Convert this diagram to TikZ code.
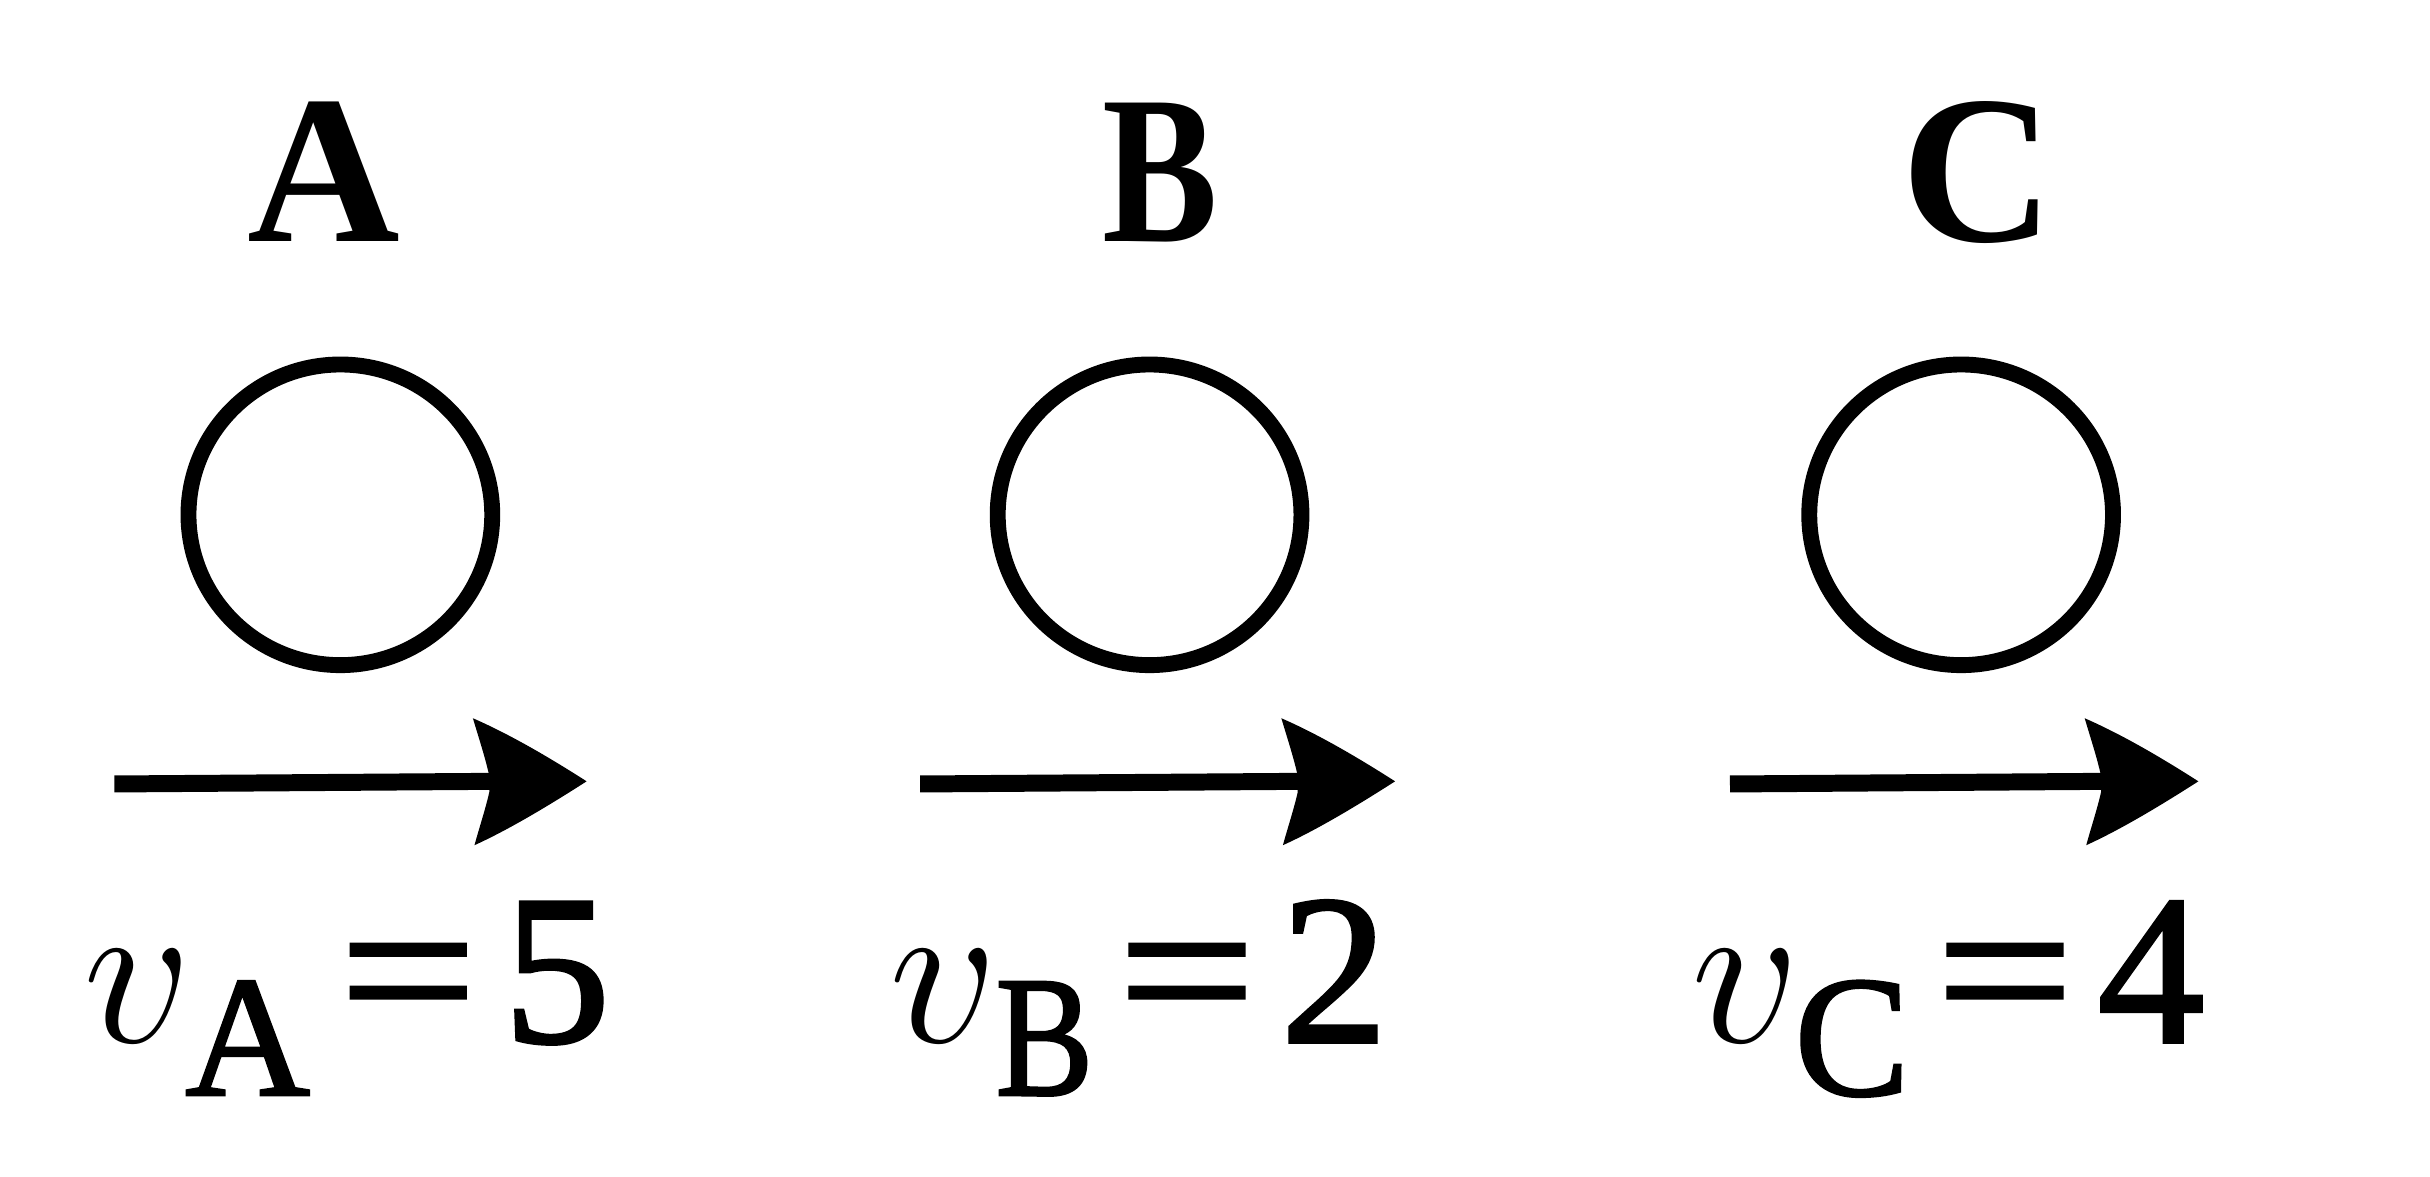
\RequirePackage{fix-cm}
\documentclass[tikz,border=0pt]{standalone}
\usepackage{fontspec}
\setmainfont{Liberation Serif}
\newfontfamily\fbold{Liberation Serif}[FakeBold=1.6]
\begin{document}
\begin{tikzpicture}[x=0.01cm,y=-0.01cm,
  toplabel/.style={inner sep=0pt,anchor=base,font=\fontsize{38.6}{40}\selectfont\bfseries},
  vsym/.style={inner sep=0pt,anchor=base,font=\fontsize{39}{40}\selectfont},
  subl/.style={inner sep=0pt,anchor=base,font=\fontsize{31.5}{32}\fbold},
  eqs/.style={inner sep=0pt,anchor=base,font=\fontsize{39}{40}\fbold},
  num/.style={inner sep=0pt,anchor=base,font=\fontsize{39}{40}\fbold},
  ball/.style={line width=2.9pt},
  shaft/.style={line width=3.1pt},
  headfill/.style={fill=black}]
\useasboundingbox (0,0) rectangle (1560,755.6);
% labels
\node[toplabel] (lA) at (208,155) {A};
\node[toplabel] (lB) at (745,155) {\scalebox{0.82}[1]{B}};
\node[toplabel] (lC) at (1270,155) {C};
% balls
\coordinate (bA) at (218.5,330.5);
\coordinate (bB) at (738,330.5);
\coordinate (bC) at (1259,330.5);
\foreach \n in {A,B,C}{
  \draw[ball] (b\n) ellipse [x radius=97.5, y radius=96.5];
}
% arrows
\foreach \n/\s/\t in {A/73.4/376.6, B/590.7/895.6, C/1110.6/1411.3}{
  \coordinate (s\n) at (\s,503.3);
  \coordinate (t\n) at (\t,501.6);
  \draw[shaft] (s\n) -- ([xshift=-0.6cm]t\n);
  \begin{scope}[shift={(t\n)}]
  \fill[headfill] (0,0) .. controls (-25,-16) and (-50,-30.5) .. (-73,-40.5)
     .. controls (-69,-27) and (-65,-15) .. (-62.5,-3.5)
     -- (-62.5,7)
     .. controls (-65,18) and (-69,30) .. (-72,41)
     .. controls (-50,31) and (-25,16) .. (0,0) -- cycle;
  \end{scope}
}
% velocity labels
\node[vsym] (vA) at (88.5,669) {$v$};
\node[subl] (sA) at (159,703) {A};
\node[eqs]  (eA) at (262,669) {\scalebox{1.14}[1]{=}};
\node[num]  (nA) at (357.5,669) {5};
\node[vsym] (vB) at (606,669) {$v$};
\node[subl] (sB) at (670.5,703) {\scalebox{0.85}[1]{B}};
\node[eqs]  (eB) at (762,669) {\scalebox{1.14}[1]{=}};
\node[num]  (nB) at (856.5,669) {2};
\node[vsym] (vC) at (1121,669) {$v$};
\node[subl] (sC) at (1189,703) {C};
\node[eqs]  (eC) at (1287,669) {\scalebox{1.14}[1]{=}};
\node[num]  (nC) at (1381,669) {4};
\end{tikzpicture}
\end{document}
